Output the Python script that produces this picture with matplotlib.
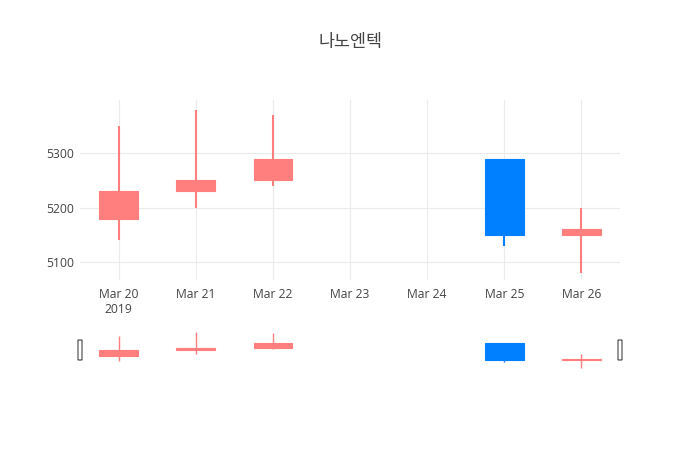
import matplotlib
matplotlib.use("Agg")
import matplotlib.pyplot as plt
import matplotlib.dates as mdates
from matplotlib.patches import FancyBboxPatch
import datetime as dt

plt.rcParams['font.family'] = ['Open Sans', 'Noto Sans CJK KR', 'DejaVu Sans']

title = "나노엔텍"
dates = ["2019-03-20", "2019-03-21", "2019-03-22", "2019-03-25", "2019-03-26"]
opens = [5180, 5230, 5250, 5290, 5150]
highs = [5350, 5380, 5370, 5290, 5200]
lows = [5140, 5200, 5240, 5130, 5080]
closes = [5230, 5250, 5290, 5150, 5160]
tick_days = ["2019-03-20", "2019-03-21", "2019-03-22", "2019-03-23",
             "2019-03-24", "2019-03-25", "2019-03-26"]
tick_labels = ["Mar 20\n2019", "Mar 21", "Mar 22", "Mar 23", "Mar 24", "Mar 25", "Mar 26"]
y_ticks = [5100, 5200, 5300]

inc_color = '#FF7F7F'
dec_color = '#0080FF'
text_color = '#444444'
grid_color = '#EBEBEB'

W, H = 700, 450
fig = plt.figure(figsize=(7, 4.5), dpi=100)
fig.patch.set_facecolor('white')

xs = [mdates.date2num(dt.datetime.strptime(d, "%Y-%m-%d")) for d in dates]
txs = [mdates.date2num(dt.datetime.strptime(d, "%Y-%m-%d")) for d in tick_days]
xmin, xmax = txs[0] - 0.5, txs[-1] + 0.5
ymin, ymax = 5067, 5398

ax = fig.add_axes([80 / W, (H - 280) / H, 540 / W, 180 / H])
sl = fig.add_axes([80 / W, (H - 370) / H, 540 / W, 40 / H])

def draw(a, lw, bw):
    for x, o, h, l, c in zip(xs, opens, highs, lows, closes):
        col = inc_color if c >= o else dec_color
        a.vlines(x, l, h, color=col, linewidth=lw, zorder=2)
        lo, hi = min(o, c), max(o, c)
        a.bar(x, hi - lo, bottom=lo, width=bw, color=col, edgecolor=col,
              linewidth=0.8, zorder=3)
    a.set_xlim(xmin, xmax)
    a.set_ylim(ymin, ymax)
    for s in a.spines.values():
        s.set_visible(False)

draw(ax, 1.5, 0.5)
draw(sl, 1.0, 0.5)

ax.set_xticks(txs)
ax.set_xticklabels(tick_labels)
ax.set_yticks(y_ticks)
ax.set_yticklabels([str(v) for v in y_ticks])
ax.tick_params(axis='both', length=0, labelsize=8.7, colors=text_color)
ax.tick_params(axis='x', pad=6)
ax.tick_params(axis='y', pad=4)
ax.grid(True, color=grid_color, linewidth=0.8, zorder=0)
ax.set_axisbelow(True)

sl.set_xticks([])
sl.set_yticks([])

# range slider handles
for xa in (0.0, 1.0):
    p = FancyBboxPatch((xa - 2.0 / 540, 0.25), 4.0 / 540, 0.5,
                       boxstyle="round,pad=0,rounding_size=0.002",
                       transform=sl.transAxes, clip_on=False,
                       facecolor='white', edgecolor='#444444', linewidth=0.8,
                       zorder=5)
    sl.add_patch(p)

fig.text(0.5, 1 - 43 / H, title, ha='center', va='center',
         fontsize=12.5, color=text_color)

fig.savefig("out.png", dpi=100, facecolor='white')
